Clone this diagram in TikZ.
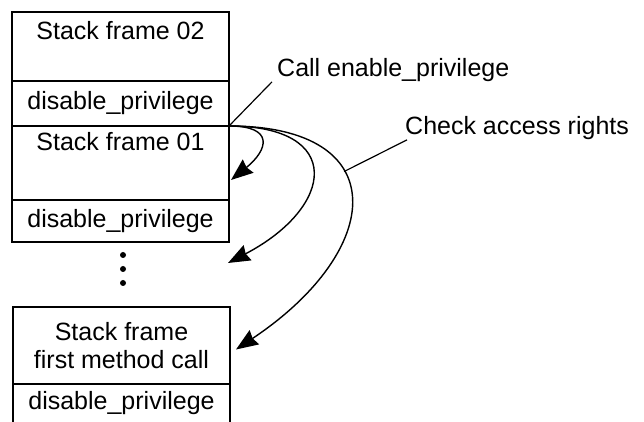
\documentclass[tikz,border=0pt]{standalone}
\usepackage{fontspec}
\setmainfont{Liberation Sans}
\usetikzlibrary{arrows.meta,positioning}

\begin{document}
\begin{tikzpicture}[
  x=1pt, y=1pt,
  font=\fontsize{25}{28}\selectfont,
  box/.style={draw, line width=1.4pt, minimum width=217pt, inner sep=0pt, outer sep=0pt, align=center},
  stackframe/.style={box, minimum height=#1},
  priv/.style={box, minimum height=#1},
  lbl/.style={anchor=north, inner sep=0pt},
  dot/.style={circle, fill, inner sep=0pt, minimum size=6pt},
  arr/.style={-{Stealth[length=22pt, width=17pt, inset=2pt]}, line width=1.4pt},
  lead/.style={line width=1.2pt}
]
\useasboundingbox (0,0) rectangle (644,422);
\clip (0,0) rectangle (644,422);

% --- upper part of the stack
\node[stackframe=69pt, label={[lbl, yshift=-9pt]north:Stack frame 02}] (f02) at (120.5,375.5) {};
\node[priv=45pt, below=0pt of f02] (dp02) {disable\_privilege};
\node[stackframe=74pt, below=0pt of dp02, label={[lbl, yshift=-6pt]north:Stack frame 01}] (f01) {};
\node[priv=42pt, below=0pt of f01] (dp01) {disable\_privilege};

\foreach \i/\y in {1/167,2/153,3/139}
  \node[dot] (dot\i) at (123,\y) {};

% --- bottom of the stack
\node[stackframe=77pt, anchor=north] (ffirst) at (121.5,115) {Stack frame\\first method call};
\node[priv=39pt, below=0pt of ffirst] (dpfirst) {disable\_privilege};

% --- labels
\node[anchor=west, inner sep=0pt] (call) at (277,352) {Call enable\_privilege};
\node[anchor=west, inner sep=0pt] (check) at (405,294) {Check access rights};

% --- access checks down the stack
\coordinate (t1) at ([xshift=2pt, yshift=-17pt]f01.east);
\coordinate (t2) at ([xshift=-1pt, yshift=-21pt]dp01.south east);
\coordinate (t3) at ([xshift=6pt, yshift=-4pt]ffirst.east);
\draw[arr] (dp02.south east) .. controls +(46,0) and +(37,30) .. (t1);
\draw[arr] (dp02.south east) .. controls +(116,0) and +(107,56) .. (t2);
\draw[arr] (dp02.south east) .. controls +(166,0) and +(149,99.5) .. (t3) coordinate[pos=0.38] (c3);
\draw[lead] (dp02.south east) -- ([xshift=-5pt]call.south west);
\draw[lead] (c3) -- ([xshift=2pt]check.south west);
\end{tikzpicture}
\end{document}
